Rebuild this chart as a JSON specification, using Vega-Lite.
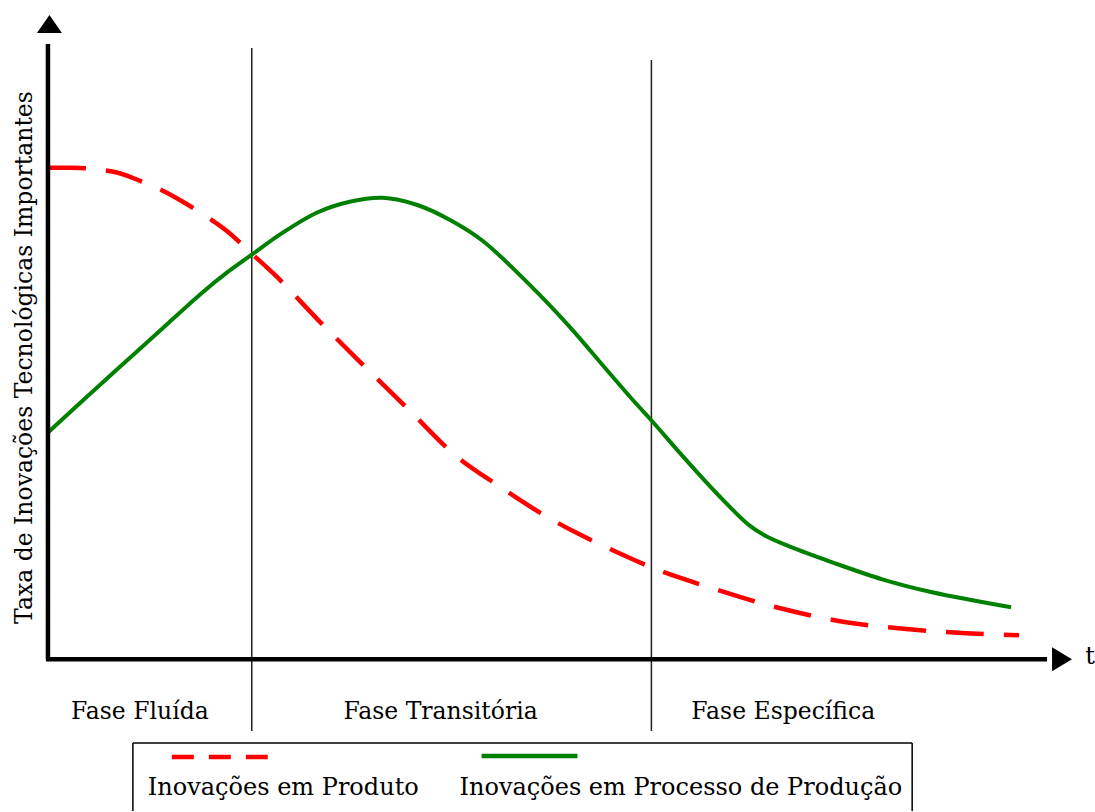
{
  "$schema": "https://vega.github.io/schema/vega-lite/v6.json",
  "width": 1095,
  "height": 812,
  "autosize": {"type": "fit", "contains": "padding"},
  "padding": 0,
  "background": "white",
  "config": {"view": {"stroke": null}},
  "datasets": {
    "processo": [
      {"u": 0, "v": 37.83}, {"u": 2.5, "v": 41.67}, {"u": 6.9, "v": 48.33}, {"u": 10.9, "v": 54.33},
      {"u": 15.2, "v": 60.83}, {"u": 17.9, "v": 64.5}, {"u": 20.4, "v": 67.5}, {"u": 23.5, "v": 71.17},
      {"u": 26.9, "v": 74.5}, {"u": 30.2, "v": 76.33}, {"u": 33.5, "v": 77}, {"u": 36.9, "v": 75.83},
      {"u": 40.2, "v": 73.33}, {"u": 43.5, "v": 69.83}, {"u": 48.2, "v": 62.5}, {"u": 52.2, "v": 55.5},
      {"u": 55.9, "v": 48.33}, {"u": 58.5, "v": 43.33}, {"u": 60.5, "v": 39.67}, {"u": 63.2, "v": 34.5},
      {"u": 65.9, "v": 29.5}, {"u": 68.2, "v": 25.5}, {"u": 70.2, "v": 22.33}, {"u": 71.9, "v": 20.5},
      {"u": 74.2, "v": 18.83}, {"u": 78.5, "v": 16.17}, {"u": 83.5, "v": 13.33}, {"u": 88.5, "v": 11.17},
      {"u": 96.4, "v": 8.67}
    ],
    "produto": [
      {"u": 0, "v": 82}, {"u": 1.9, "v": 82}, {"u": 4.4, "v": 81.83}, {"u": 7, "v": 81.17},
      {"u": 9.2, "v": 79.83}, {"u": 11.5, "v": 78.17}, {"u": 13.5, "v": 76.33}, {"u": 16.2, "v": 73.5},
      {"u": 18, "v": 71.33}, {"u": 20.4, "v": 67.67}, {"u": 22.9, "v": 63.83}, {"u": 27.2, "v": 56.33},
      {"u": 31, "v": 50}, {"u": 35.9, "v": 42}, {"u": 40.9, "v": 33.83}, {"u": 45.2, "v": 28.83},
      {"u": 49.2, "v": 24.5}, {"u": 53.2, "v": 20.83}, {"u": 59.2, "v": 16.17}, {"u": 61.4, "v": 14.67},
      {"u": 66.2, "v": 12}, {"u": 72.9, "v": 8.67}, {"u": 79.9, "v": 6.17}, {"u": 86.2, "v": 5},
      {"u": 91.9, "v": 4.33}, {"u": 97.2, "v": 4}
    ],
    "eixos": [
      {"u": 0, "v": 0, "u2": 0, "v2": 102.67},
      {"u": -0.2, "v": 0, "u2": 100, "v2": 0}
    ],
    "fases": [
      {"u": 20.4, "v": 102, "u2": 20.4, "v2": -12},
      {"u": 60.4, "v": 100, "u2": 60.4, "v2": -12}
    ],
    "caixa": [
      {"u": 8.5, "v": -14, "u2": 86.5, "v2": -14},
      {"u": 8.5, "v": -14, "u2": 8.5, "v2": -25.33},
      {"u": 86.5, "v": -14, "u2": 86.5, "v2": -25.33}
    ],
    "legenda_produto": [{"u": 12.4, "v": -16.33, "u2": 22, "v2": -16.33}],
    "legenda_processo": [{"u": 43.4, "v": -16.17, "u2": 53, "v2": -16.17}],
    "seta_y": [{"u": 0.15, "v": 106}],
    "seta_x": [{"u": 101.5, "v": 0}],
    "rotulos_fase": [
      {"u": 9.2, "v": -10, "texto": "Fase Fluída"},
      {"u": 39.3, "v": -10, "texto": "Fase Transitória"},
      {"u": 73.6, "v": -10, "texto": "Fase Específica"}
    ],
    "rotulos_legenda": [
      {"u": 10, "v": -22.67, "texto": "Inovações em Produto"},
      {"u": 41.2, "v": -22.67, "texto": "Inovações em Processo de Produção"}
    ],
    "rotulo_t": [{"u": 104.3, "v": 0.3, "texto": "t"}],
    "titulo_y": [{"u": -2.3, "v": 50.33, "texto": "Taxa de Inovações Tecnológicas Importantes"}]
  },
  "layer": [
    {
      "data": {"name": "fases"},
      "mark": {"type": "rule", "color": "#222222", "strokeWidth": 1.5},
      "encoding": {
        "x": {"field": "u", "type": "quantitative", "scale": {"domain": [-4.8, 104.7], "nice": false, "zero": false}, "axis": null},
        "y": {"field": "v", "type": "quantitative", "scale": {"domain": [-25.333, 110], "nice": false, "zero": false}, "axis": null},
        "x2": {"field": "u2"},
        "y2": {"field": "v2"}
      }
    },
    {
      "data": {"name": "produto"},
      "mark": {"type": "line", "color": "#ff0000", "strokeWidth": 4.5, "strokeDash": [38, 20], "interpolate": "catmull-rom"},
      "encoding": {
        "x": {"field": "u", "type": "quantitative"},
        "y": {"field": "v", "type": "quantitative"}
      }
    },
    {
      "data": {"name": "processo"},
      "mark": {"type": "line", "color": "#008000", "strokeWidth": 4, "interpolate": "catmull-rom"},
      "encoding": {
        "x": {"field": "u", "type": "quantitative"},
        "y": {"field": "v", "type": "quantitative"}
      }
    },
    {
      "data": {"name": "eixos"},
      "mark": {"type": "rule", "color": "#000000", "strokeWidth": 4.5},
      "encoding": {
        "x": {"field": "u", "type": "quantitative"},
        "y": {"field": "v", "type": "quantitative"},
        "x2": {"field": "u2"},
        "y2": {"field": "v2"}
      }
    },
    {
      "data": {"name": "seta_y"},
      "mark": {"type": "point", "shape": "M0,-0.72L1,0.72L-1,0.72Z", "filled": true, "color": "#000000", "size": 625, "opacity": 1},
      "encoding": {
        "x": {"field": "u", "type": "quantitative"},
        "y": {"field": "v", "type": "quantitative"}
      }
    },
    {
      "data": {"name": "seta_x"},
      "mark": {"type": "point", "shape": "M-0.83,-1L0.83,0L-0.83,1Z", "filled": true, "color": "#000000", "size": 576, "opacity": 1},
      "encoding": {
        "x": {"field": "u", "type": "quantitative"},
        "y": {"field": "v", "type": "quantitative"}
      }
    },
    {
      "data": {"name": "caixa"},
      "mark": {"type": "rule", "color": "#000000", "strokeWidth": 1.5},
      "encoding": {
        "x": {"field": "u", "type": "quantitative"},
        "y": {"field": "v", "type": "quantitative"},
        "x2": {"field": "u2"},
        "y2": {"field": "v2"}
      }
    },
    {
      "data": {"name": "legenda_produto"},
      "mark": {"type": "rule", "color": "#ff0000", "strokeWidth": 4.5, "strokeDash": [22, 15]},
      "encoding": {
        "x": {"field": "u", "type": "quantitative"},
        "y": {"field": "v", "type": "quantitative"},
        "x2": {"field": "u2"},
        "y2": {"field": "v2"}
      }
    },
    {
      "data": {"name": "legenda_processo"},
      "mark": {"type": "rule", "color": "#008000", "strokeWidth": 4.5},
      "encoding": {
        "x": {"field": "u", "type": "quantitative"},
        "y": {"field": "v", "type": "quantitative"},
        "x2": {"field": "u2"},
        "y2": {"field": "v2"}
      }
    },
    {
      "data": {"name": "rotulos_fase"},
      "mark": {"type": "text", "font": "DejaVu Serif", "fontSize": 23.5, "color": "#000000", "align": "center", "baseline": "alphabetic"},
      "encoding": {
        "x": {"field": "u", "type": "quantitative"},
        "y": {"field": "v", "type": "quantitative"},
        "text": {"field": "texto"}
      }
    },
    {
      "data": {"name": "rotulos_legenda"},
      "mark": {"type": "text", "font": "DejaVu Serif", "fontSize": 24, "color": "#000000", "align": "left", "baseline": "alphabetic"},
      "encoding": {
        "x": {"field": "u", "type": "quantitative"},
        "y": {"field": "v", "type": "quantitative"},
        "text": {"field": "texto"}
      }
    },
    {
      "data": {"name": "rotulo_t"},
      "mark": {"type": "text", "font": "DejaVu Serif", "fontSize": 24, "color": "#000000", "align": "center", "baseline": "middle"},
      "encoding": {
        "x": {"field": "u", "type": "quantitative"},
        "y": {"field": "v", "type": "quantitative"},
        "text": {"field": "texto"}
      }
    },
    {
      "data": {"name": "titulo_y"},
      "mark": {"type": "text", "font": "DejaVu Serif", "fontSize": 23.5, "color": "#000000", "align": "center", "baseline": "middle", "angle": 270},
      "encoding": {
        "x": {"field": "u", "type": "quantitative"},
        "y": {"field": "v", "type": "quantitative"},
        "text": {"field": "texto"}
      }
    }
  ]
}
